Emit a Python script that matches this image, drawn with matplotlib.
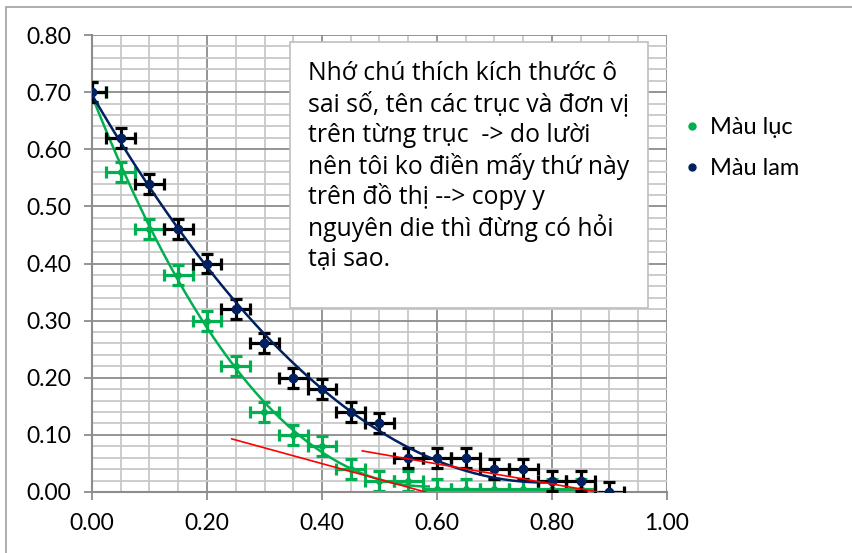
import numpy as np
import matplotlib
matplotlib.use("Agg")
import matplotlib.pyplot as plt
from matplotlib.lines import Line2D
from matplotlib.patches import Rectangle

plt.rcParams['font.family'] = ['Lato', 'Noto Sans', 'DejaVu Sans']

# du lieu doc tu hinh
x_luc = [0.00, 0.05, 0.10, 0.15, 0.20, 0.25, 0.30, 0.35, 0.40, 0.45, 0.50, 0.55,
         0.60, 0.65, 0.70, 0.75, 0.80, 0.85]
y_luc = [0.70, 0.56, 0.46, 0.38, 0.30, 0.22, 0.14, 0.10, 0.08, 0.04, 0.02, 0.02,
         0.005, 0.005, 0.005, 0.005, 0.005, 0.005]
x_lam = [0.00, 0.05, 0.10, 0.15, 0.20, 0.25, 0.30, 0.35, 0.40, 0.45, 0.50, 0.55,
         0.60, 0.65, 0.70, 0.75, 0.80, 0.85, 0.90]
y_lam = [0.70, 0.62, 0.54, 0.46, 0.40, 0.32, 0.26, 0.20, 0.18, 0.14, 0.12, 0.06,
         0.06, 0.06, 0.04, 0.04, 0.02, 0.02, 0.00]
sai_so_x = 0.025
sai_so_y = 0.0175

# hai duong tiep tuyen mau do
tiep_tuyen_1 = ([0.243, 0.58], [0.093, 0.0])
tiep_tuyen_2 = ([0.47, 0.88], [0.072, 0.0])

ghi_chu = ["Nhớ chú thích kích thước ô",
           "sai số, tên các trục và đơn vị",
           "trên từng trục  -> do lười",
           "nên tôi ko điền mấy thứ này",
           "trên đồ thị --> copy y",
           "nguyên die thì đừng có hỏi",
           "tại sao."]

XANH_LUC = '#00B050'
XANH_LAM = '#002060'

fig = plt.figure(figsize=(8.53, 5.53), dpi=100)
ax = fig.add_axes([92/853, 1-492/553, 575/853, 457/553])

# luoi kieu Excel
ax.set_xlim(0, 1.0)
ax.set_ylim(0, 0.8)
ax.set_xticks(np.arange(0, 1.01, 0.2))
ax.set_yticks(np.arange(0, 0.81, 0.1))
ax.set_xticks(np.arange(0, 1.01, 0.05), minor=True)
ax.set_yticks(np.arange(0, 0.81, 0.02), minor=True)
ax.grid(which='minor', color='#C8C8C8', lw=1.3)
ax.grid(which='major', color='#8C8C8C', lw=1.3)
ax.set_axisbelow(True)
ax.tick_params(which='minor', length=0)
ax.tick_params(which='major', length=6, width=1.3, color='#8C8C8C',
               labelsize=16.5, pad=9)
ax.xaxis.set_major_formatter(matplotlib.ticker.FormatStrFormatter('%.2f'))
ax.yaxis.set_major_formatter(matplotlib.ticker.FormatStrFormatter('%.2f'))
for s in ['top', 'right']:
    ax.spines[s].set_visible(False)
for s in ['left', 'bottom']:
    ax.spines[s].set_color('#8C8C8C')
    ax.spines[s].set_linewidth(1.5)

# duong xu huong (da thuc), dung lai khi cham y = 0 hoac diem cuc tieu
def xu_huong(x, y, bac, x_max):
    x = np.array(x)
    y = np.array(y)
    m = x <= x_max
    p = np.polyfit(x[m], y[m], bac)
    xx = np.linspace(0, 1.0, 1000)
    yy = np.polyval(p, xx)
    dy = np.diff(yy)
    stop = len(xx) - 1
    if np.any(dy > 0):
        stop = min(stop, int(np.argmax(dy > 0)))
    if np.any(yy < 0):
        stop = min(stop, int(np.argmax(yy < 0)))
    return xx[:stop + 1], yy[:stop + 1]

xt, yt = xu_huong(x_luc, y_luc, 3, 0.6)
ax.plot(xt, yt, color=XANH_LUC, lw=1.8, zorder=3)
xt, yt = xu_huong(x_lam, y_lam, 2, 0.9)
ax.plot(xt, yt, color=XANH_LAM, lw=1.8, zorder=5)

ax.errorbar(x_luc, y_luc, xerr=sai_so_x, yerr=sai_so_y, fmt='o', ms=4,
            color=XANH_LUC, ecolor=XANH_LUC, elinewidth=2.3, capsize=4.5,
            capthick=2.3, zorder=2)
ax.errorbar(x_lam, y_lam, xerr=sai_so_x, yerr=sai_so_y, fmt='o', ms=6,
            color=XANH_LAM, ecolor='black', elinewidth=2.3, capsize=4.5,
            capthick=2.3, zorder=4)

ax.plot(*tiep_tuyen_1, color='red', lw=1.2, zorder=6)
ax.plot(*tiep_tuyen_2, color='red', lw=1.2, zorder=6)

# chu thich
handles = [Line2D([], [], ls='none', marker='o', ms=5, color=XANH_LUC),
           Line2D([], [], ls='none', marker='o', ms=5, color=XANH_LAM)]
fig.legend(handles, ['Màu lục', 'Màu lam'], loc='upper left',
           bbox_to_anchor=(664/853, 1-96/553), frameon=False, fontsize=17,
           handlelength=0.6, handletextpad=0.45, labelspacing=0.85)

# o ghi chu
fig.patches.append(Rectangle((290/853, 1-308/553), 358/853, 266/553,
                             transform=fig.transFigure, facecolor='white',
                             edgecolor='#BFBFBF', lw=1.2, zorder=10))
for i, dong in enumerate(ghi_chu):
    fig.text(308/853, 1-(73 + 31*i)/553, dong, fontsize=17.8, va='center',
             ha='left', zorder=11, family=['Open Sans', 'DejaVu Sans'])

# khung bieu do
fig.patches.append(Rectangle((6/853, -0.1), 1.2, 1.1 - 7/553,
                             transform=fig.transFigure, fill=False,
                             edgecolor='#A0A0A0', lw=1.2))

fig.savefig('out.png', dpi=100)
